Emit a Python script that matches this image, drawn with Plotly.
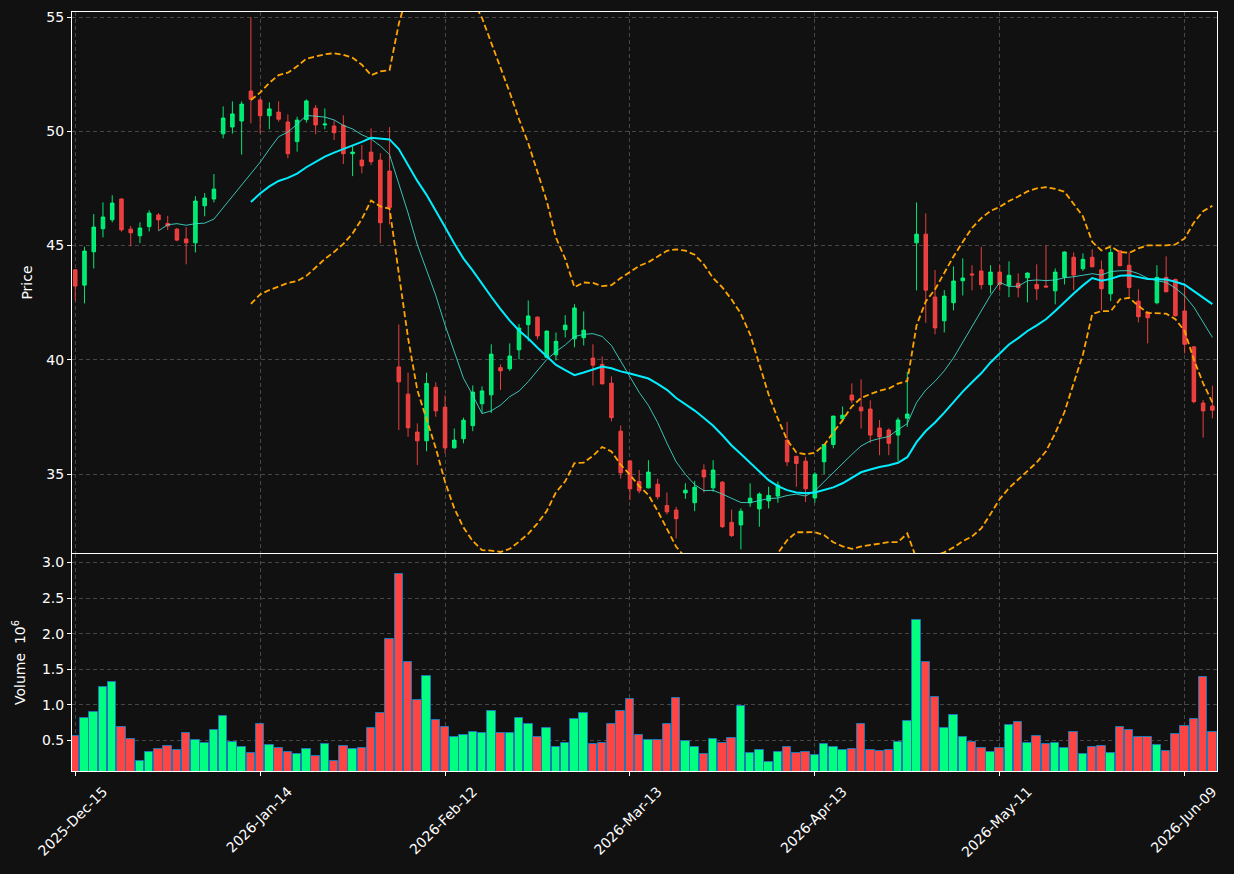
import pandas as pd
import plotly.graph_objects as go

# ---------------- data ----------------
holidays = ["2025-12-25", "2026-01-01", "2026-01-19", "2026-02-16",
            "2026-04-03", "2026-05-25"]
n_bars = 124
dates = pd.bdate_range("2025-12-15", periods=n_bars, freq="C", holidays=holidays)

opens = [43.94, 43.27, 44.73, 45.74, 46.13, 47.04, 45.72, 45.43, 45.83, 46.34,
         45.97, 45.72, 45.29, 45.12, 46.74, 47.04, 49.89, 50.19, 50.45, 51.76,
         51.37, 50.68, 50.84, 50.41, 49.55, 50.51, 51.01, 50.28, 50.23, 50.26,
         49.02, 48.74, 49.09, 48.74, 48.26, 39.69, 38.50, 36.84, 36.46, 38.80,
         37.93, 36.15, 36.55, 37.12, 38.08, 38.47, 39.66, 39.61, 40.44, 41.54,
         41.87, 40.11, 40.22, 41.32, 40.92, 40.97, 40.08, 39.80, 38.98, 36.88,
         35.58, 34.68, 34.40, 34.56, 33.63, 33.43, 34.18, 33.75, 35.18, 34.40,
         34.65, 32.89, 32.78, 33.75, 33.48, 33.83, 34.04, 36.49, 35.78, 35.57,
         33.96, 35.54, 36.30, 37.42, 38.46, 37.93, 37.85, 37.02, 36.93, 36.71,
         37.45, 45.12, 45.50, 42.75, 41.71, 42.50, 43.46, 43.76, 43.89, 43.29,
         43.84, 43.26, 43.35, 43.59, 43.30, 43.23, 43.02, 43.62, 44.49, 43.99,
         44.49, 43.94, 42.89, 44.77, 44.14, 42.57, 42.09, 42.50, 43.61, 43.52,
         42.14, 40.57, 38.11, 37.98]
highs = [43.97, 44.95, 46.38, 46.89, 47.20, 47.06, 45.86, 46.02, 46.54, 46.42,
         46.30, 45.77, 45.80, 47.16, 47.30, 48.13, 51.09, 51.31, 51.31, 54.99,
         51.45, 51.27, 51.31, 50.74, 50.64, 51.40, 51.15, 51.00, 50.48, 50.70,
         49.36, 49.40, 50.13, 49.04, 50.18, 41.55, 39.44, 37.22, 39.44, 39.02,
         38.45, 37.00, 37.47, 38.88, 38.84, 40.68, 39.80, 40.72, 41.57, 42.60,
         41.90, 41.28, 41.20, 41.96, 42.44, 42.12, 40.68, 40.15, 39.28, 37.13,
         35.61, 35.18, 35.61, 34.80, 34.20, 33.57, 34.60, 34.71, 35.43, 35.61,
         34.70, 33.45, 33.50, 34.60, 34.20, 34.45, 34.68, 37.29, 35.80, 35.76,
         35.09, 36.32, 37.56, 37.96, 38.97, 39.15, 38.23, 37.37, 37.00, 37.48,
         39.48, 46.89, 46.41, 43.93, 43.05, 44.09, 44.44, 44.14, 44.95, 44.14,
         44.14, 44.31, 43.79, 43.82, 44.18, 45.01, 44.00, 44.75, 44.70, 44.66,
         44.84, 44.35, 44.88, 44.80, 44.70, 43.09, 42.10, 44.14, 44.53, 43.55,
         43.35, 40.60, 38.24, 38.87]
lows = [42.59, 42.47, 44.00, 45.36, 46.02, 45.61, 44.97, 45.10, 45.62, 45.65,
        45.68, 45.19, 44.18, 44.70, 46.28, 46.89, 49.69, 49.90, 48.98, 50.35,
        49.91, 50.09, 50.42, 48.82, 49.11, 50.38, 49.87, 50.09, 49.62, 48.57,
        48.04, 48.16, 48.53, 45.10, 45.93, 36.93, 36.63, 35.40, 36.00, 37.51,
        35.91, 36.12, 36.35, 36.88, 37.68, 37.68, 38.68, 39.52, 40.02, 40.81,
        40.90, 40.07, 39.98, 40.98, 40.55, 40.63, 38.88, 38.93, 37.31, 34.81,
        33.86, 34.16, 34.38, 33.89, 33.24, 32.19, 33.92, 33.38, 34.20, 34.23,
        32.65, 32.25, 31.71, 33.57, 32.70, 33.50, 33.75, 35.35, 34.45, 33.78,
        33.75, 35.00, 36.13, 37.28, 38.10, 37.00, 36.37, 35.83, 35.83, 35.57,
        37.07, 43.04, 41.62, 41.12, 41.20, 42.17, 42.82, 43.04, 43.09, 42.91,
        43.02, 42.74, 42.74, 42.52, 42.62, 43.17, 42.43, 43.30, 43.05, 43.89,
        44.05, 42.17, 42.57, 44.10, 42.76, 41.64, 40.72, 42.43, 42.96, 41.90,
        40.28, 38.10, 36.60, 37.44]
closes = [43.23, 44.76, 45.81, 46.25, 46.86, 45.69, 45.56, 45.77, 46.42, 46.13,
          45.86, 45.24, 45.12, 46.95, 47.08, 47.47, 50.58, 50.76, 51.19, 51.40,
          50.68, 50.98, 50.53, 49.02, 50.49, 51.33, 50.28, 50.32, 49.94, 49.02,
          49.09, 48.49, 48.67, 46.00, 46.67, 39.04, 37.03, 36.46, 38.97, 37.77,
          36.15, 36.49, 37.36, 38.59, 38.64, 40.25, 39.52, 40.17, 41.39, 41.92,
          41.05, 41.26, 40.81, 41.52, 42.27, 41.30, 39.77, 38.95, 37.47, 35.06,
          34.36, 34.27, 35.09, 34.01, 33.35, 33.05, 34.30, 34.43, 34.88, 35.18,
          32.70, 32.31, 33.38, 33.95, 34.13, 34.07, 34.52, 35.54, 35.47, 34.36,
          35.00, 36.30, 37.54, 37.58, 38.24, 37.77, 36.71, 36.63, 36.35, 37.37,
          37.63, 45.50, 43.05, 41.40, 42.79, 43.45, 43.58, 43.72, 43.29, 43.84,
          43.30, 43.70, 43.16, 43.80, 43.11, 43.19, 43.84, 44.72, 43.71, 44.40,
          44.07, 43.11, 44.70, 44.12, 43.17, 41.89, 41.84, 43.61, 42.98, 41.93,
          40.68, 38.17, 37.77, 37.80]
volume_millions = [0.566, 0.816, 0.900, 1.253, 1.323, 0.689, 0.520, 0.218, 0.336, 0.379,
                   0.421, 0.365, 0.609, 0.506, 0.463, 0.647, 0.844, 0.478, 0.407, 0.322,
                   0.731, 0.435, 0.393, 0.336, 0.308, 0.379, 0.280, 0.449, 0.210, 0.421,
                   0.379, 0.393, 0.675, 0.886, 1.929, 2.845, 1.605, 1.070, 1.408, 0.788,
                   0.689, 0.548, 0.576, 0.619, 0.605, 0.915, 0.605, 0.605, 0.816, 0.731,
                   0.548, 0.675, 0.407, 0.463, 0.802, 0.886, 0.449, 0.463, 0.731, 0.915,
                   1.084, 0.576, 0.506, 0.506, 0.731, 1.098, 0.492, 0.407, 0.308, 0.520,
                   0.463, 0.534, 0.985, 0.322, 0.365, 0.196, 0.336, 0.407, 0.322, 0.336,
                   0.294, 0.449, 0.407, 0.365, 0.379, 0.731, 0.365, 0.350, 0.365, 0.478,
                   0.773, 2.197, 1.605, 1.112, 0.675, 0.858, 0.548, 0.478, 0.393, 0.336,
                   0.393, 0.717, 0.760, 0.463, 0.562, 0.449, 0.463, 0.393, 0.619, 0.308,
                   0.407, 0.421, 0.322, 0.689, 0.647, 0.548, 0.548, 0.435, 0.350, 0.590,
                   0.703, 0.802, 1.394, 0.619]

mav_short, mav_long, bb_mult = 10, 20, 2.0
tick_every = 20

# ---------------- derived series ----------------
x = list(range(n_bars))
close_s = pd.Series(closes)
ma_short = close_s.rolling(mav_short).mean()
ma_long = close_s.rolling(mav_long).mean()
sd = close_s.rolling(mav_long).std(ddof=0)
bb_up = ma_long + bb_mult * sd
bb_lo = ma_long - bb_mult * sd

tickvals = x[::tick_every]
ticktext = [dates[i].strftime("%Y-%b-%d") for i in tickvals]

# ---------------- styling ----------------
BG = "#111111"
UP = "#00ff80"
DOWN = "#ff4444"
UP_A = "rgba(0,255,128,0.9)"
DOWN_A = "rgba(255,68,68,0.9)"
GRID = "#474747"
FONT = "DejaVu Sans"

vol_colors = [UP if c >= o else DOWN for o, c in zip(opens, closes)]

fig = go.Figure()

fig.add_trace(go.Candlestick(
    x=x, open=opens, high=highs, low=lows, close=closes,
    increasing=dict(line=dict(color=UP_A, width=1), fillcolor=UP_A),
    decreasing=dict(line=dict(color=DOWN_A, width=1), fillcolor=DOWN_A),
    whiskerwidth=0, showlegend=False, xaxis="x", yaxis="y"))

fig.add_trace(go.Scatter(x=x, y=ma_short, mode="lines",
                         line=dict(color="rgba(64,224,208,0.85)", width=1),
                         showlegend=False, xaxis="x", yaxis="y"))
fig.add_trace(go.Scatter(x=x, y=ma_long, mode="lines",
                         line=dict(color="#00eeff", width=2),
                         showlegend=False, xaxis="x", yaxis="y"))
for band in (bb_up, bb_lo):
    fig.add_trace(go.Scatter(x=x, y=band, mode="lines",
                             line=dict(color="#ffa500", width=1.8, dash="6px,3px"),
                             showlegend=False, xaxis="x", yaxis="y"))

fig.add_trace(go.Bar(x=x, y=volume_millions, marker=dict(color=vol_colors,
                     line=dict(color="#1f77b4", width=1)),
                     width=0.92, showlegend=False, xaxis="x2", yaxis="y2"))

x_range = [-0.35, 123.5]
axis_common = dict(showline=True, linecolor="white", linewidth=1, mirror=True,
                   gridcolor=GRID, griddash="4px,3px", gridwidth=0.8,
                   zeroline=False, ticks="outside", tickcolor="white", ticklen=4,
                   automargin=False,
                   tickfont=dict(family=FONT, size=14, color="white"))

fig.update_layout(
    width=1234, height=874,
    paper_bgcolor=BG, plot_bgcolor=BG,
    margin=dict(l=72, r=17, t=12, b=103),
    boxgap=0.45,
    bargap=0,
    font=dict(family=FONT, color="white", size=14),
    xaxis=dict(domain=[0, 1], anchor="y", range=x_range, tickvals=tickvals,
               showticklabels=False, rangeslider=dict(visible=False), **axis_common),
    xaxis2=dict(domain=[0, 1], anchor="y2", range=x_range, matches="x",
                tickvals=tickvals, ticktext=ticktext, tickangle=-45,
                ticklabelshift=28, ticklabelstandoff=2, **axis_common),
    yaxis=dict(domain=[0.2872, 1], anchor="x", range=[31.55, 55.22],
               tickvals=[35, 40, 45, 50, 55],
               title=dict(text="Price", font=dict(family=FONT, size=14, color="white"),
                          standoff=10),
               **axis_common),
    yaxis2=dict(domain=[0, 0.2859], anchor="x2", range=[0.073, 3.12],
                tickvals=[0.5, 1.0, 1.5, 2.0, 2.5, 3.0], tickformat=".1f",
                title=dict(text="Volume  10<sup>6</sup>",
                           font=dict(family=FONT, size=14, color="white"),
                           standoff=13),
                **axis_common),
)

fig.write_html("out.html")
